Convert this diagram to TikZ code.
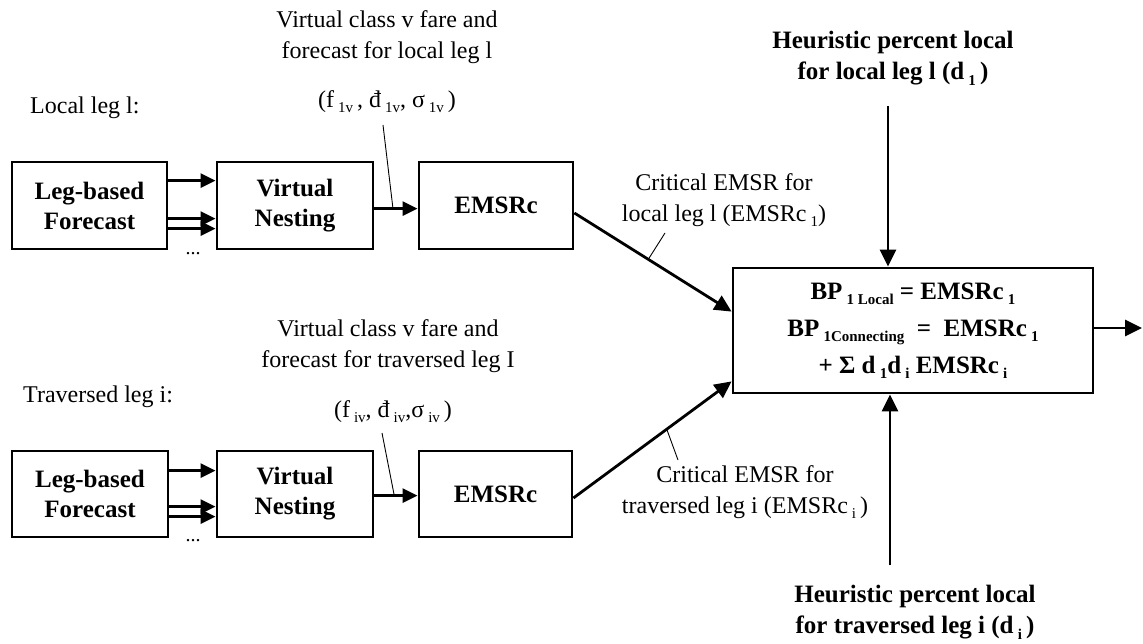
\documentclass[tikz,border=0pt]{standalone}
\usepackage{fontspec}
\setmainfont{Liberation Serif}
\usetikzlibrary{arrows.meta}
\newcommand{\lowidx}[1]{\raisebox{-0.45ex}{\fontsize{15}{15}\selectfont #1}}
\begin{document}
\begin{tikzpicture}[x=1pt,y=-1pt,
  procbox/.style={draw, line width=2.8pt, inner sep=0pt, align=center,
    minimum height=87pt, font=\bfseries\fontsize{25}{30}\selectfont},
  plain/.style={inner sep=0pt, align=center, font=\fontsize{24}{31}\selectfont},
  boldlbl/.style={inner sep=0pt, align=center, font=\bfseries\fontsize{25}{31}\selectfont},
  arr/.style={line width=2.8pt, -{Triangle[length=15pt,width=14pt]}},
  bigarr/.style={line width=2.8pt, -{Triangle[length=17pt,width=16pt]}},
  pointer/.style={line width=0.9pt}]
\useasboundingbox (0,0) rectangle (1143,644);

% ---------- top row ----------
\node[procbox, minimum width=155pt] (lb1) at (89.5,205.5) {Leg-based\\Forecast};
\node[procbox, minimum width=156pt] (vn1) at (295,205.5) {Virtual\\Nesting};
\node[procbox, minimum width=154pt] (em1) at (496,205.5) {EMSRc};

% ---------- bottom row ----------
\node[procbox, minimum width=156pt, minimum height=86pt] (lb2) at (90,494) {Leg-based\\Forecast};
\node[procbox, minimum width=156pt, minimum height=86pt] (vn2) at (295,494) {Virtual\\Nesting};
\node[procbox, minimum width=153pt, minimum height=86pt] (em2) at (495.5,494) {EMSRc};

% ---------- formula box ----------
\node[draw, line width=2.8pt, minimum width=360pt, minimum height=125pt, inner sep=0pt,
  align=center, font=\bfseries\fontsize{25}{37}\selectfont] (bp) at (913,330.5)
  {BP\,\lowidx{1 Local} = EMSRc\,\lowidx{1}\\
   BP\,\lowidx{1Connecting} \ = \ EMSRc\,\lowidx{1}\\
   + Σ d\,\lowidx{1}d\,\lowidx{i} EMSRc\,\lowidx{i}};

% ---------- labels ----------
\node[plain, anchor=west] (loc) at (30,108) {Local leg l:};
\node[plain, anchor=west] (trav) at (23,397) {Traversed leg i:};
\node[plain] (vc1) at (387,37.5) {Virtual class v fare and\\forecast for local leg l};
\node[plain] (fv1) at (387,102) {(f\,\lowidx{1v}\,, đ\,\lowidx{1v}, σ\,\lowidx{1v}\,)};
\node[plain] (vc2) at (388,346.5) {Virtual class v fare and\\forecast for traversed leg I};
\node[plain] (fv2) at (393,412) {(f\,\lowidx{iv}, đ\,\lowidx{iv},σ\,\lowidx{iv}\,)};
\node[plain] (cr1) at (724,200.5) {Critical EMSR for\\local leg l (EMSRc\,\lowidx{1})};
\node[plain] (cr2) at (745,492.5) {Critical EMSR for\\traversed leg i (EMSRc\,\lowidx{i}\,)};
\node[boldlbl] (h1) at (893,58.5) {Heuristic percent local\\for local leg l (d\,\lowidx{1}\,)};
\node[boldlbl] (h2) at (915,612.5) {Heuristic percent local\\for traversed leg i (d\,\lowidx{i}\,)};
\node[plain, font=\fontsize{20}{20}\selectfont] (dots1) at (193,254) {...};
\node[plain, font=\fontsize{20}{20}\selectfont] (dots2) at (193,541) {...};

% ---------- free ends ----------
\coordinate (q1) at (383,125);
\coordinate (q2) at (382,433);
\coordinate (c1) at (665,233);
\coordinate (c2) at (678,460);
\coordinate (ht) at (888,106);
\coordinate (hb) at (890,565);
\coordinate (out) at (1142,328);

% ---------- top row arrows ----------
\draw[arr] ([yshift=-20pt]lb1.north east) -- ([yshift=-20pt]vn1.north west);
\draw[arr] ([yshift=-58pt]lb1.north east) -- ([yshift=-58pt]vn1.north west);
\draw[arr] ([yshift=-68pt]lb1.north east) -- ([yshift=-68pt]vn1.north west);
\draw[arr] ([yshift=-48pt]vn1.north east) -- coordinate[pos=0.43] (p1) ([yshift=-48pt]em1.north west);
\draw[pointer] (q1) -- (p1);

% ---------- bottom row arrows ----------
\draw[arr] ([yshift=-21pt]lb2.north east) -- ([yshift=-21pt]vn2.north west);
\draw[arr] ([yshift=-57pt]lb2.north east) -- ([yshift=-57pt]vn2.north west);
\draw[arr] ([yshift=-67pt]lb2.north east) -- ([yshift=-67pt]vn2.north west);
\draw[arr] ([yshift=-46pt]vn2.north east) -- coordinate[pos=0.46] (p2) ([yshift=-46pt]em2.north west);
\draw[pointer] (q2) -- (p2);

% ---------- to formula box ----------
\draw[bigarr] ([yshift=-7.5pt]em1.east) -- coordinate[pos=0.47] (m1) ([yshift=-45pt]bp.north west);
\draw[pointer] (c1) -- (m1);
\draw[bigarr] ([yshift=-4pt]em2.east) -- coordinate[pos=0.59] (m2) ([yshift=13pt]bp.south west);
\draw[pointer] (c2) -- (m2);
\draw[bigarr] (ht) -- (ht |- bp.north);
\draw[bigarr] (hb) -- (hb |- bp.south);
\draw[bigarr] (bp.east |- out) -- (out);
\end{tikzpicture}
\end{document}
